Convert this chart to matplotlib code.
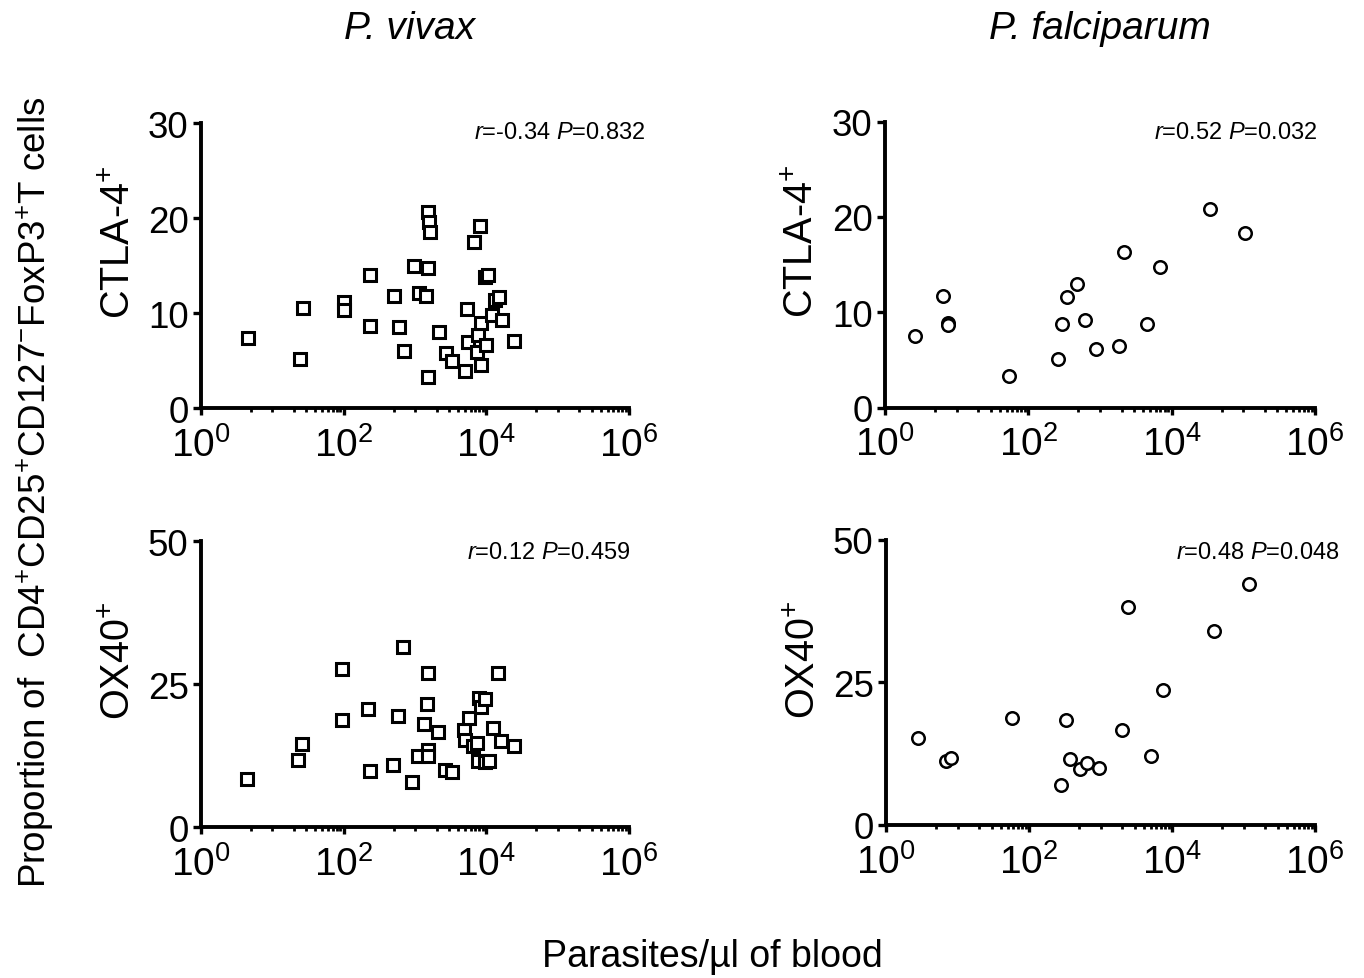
import matplotlib
matplotlib.use("Agg")
import matplotlib.pyplot as plt
import numpy as np
from matplotlib.ticker import FixedLocator, NullFormatter

plt.rcParams["font.family"] = ["Liberation Sans", "DejaVu Sans"]
plt.rcParams["mathtext.fontset"] = "custom"
plt.rcParams["mathtext.rm"] = "Liberation Sans"
plt.rcParams["mathtext.it"] = "Liberation Sans:italic"
plt.rcParams["mathtext.bf"] = "Liberation Sans:bold"

# parasites/ul of blood vs. proportion (%) of Treg cells
vivax_ctla_x = [4.5, 27, 24, 100, 100, 232, 235, 512, 601, 706, 957, 1150, 1430, 1540,
                1510, 1570, 1630, 1520, 2200, 2740, 3320, 4950, 5280, 5520, 6780, 8150,
                7310, 7640, 8510, 8320, 10000, 9460, 10570, 12160, 13090, 15100, 16790, 24550]
vivax_ctla_y = [7.4, 10.5, 5.2, 11.2, 10.3, 14.0, 8.6, 11.8, 8.5, 6.0, 14.9, 12.1, 11.8, 14.7,
                20.6, 19.6, 18.5, 3.3, 8.0, 5.8, 4.9, 3.85, 10.4, 7.0, 17.5, 19.2,
                5.9, 7.7, 8.9, 4.5, 6.6, 13.8, 14.0, 9.8, 11.4, 11.7, 9.3, 7.1]

vivax_ox40_x = [4.4, 22.8, 26.2, 96, 96, 222, 230, 484, 582, 684, 908, 1090, 1350, 1460,
                1540, 1540, 1540, 2080, 2640, 3290, 4850, 5060, 5640, 6490, 7460, 7800,
                8320, 9680, 7640, 9460, 10900, 12400, 14620, 16260, 24270]
vivax_ox40_y = [8.4, 11.7, 14.5, 27.6, 18.7, 20.7, 9.8, 10.8, 19.5, 31.4, 7.8, 12.5, 18.0, 21.5,
                27.0, 13.5, 12.5, 16.7, 10.0, 9.7, 17.0, 15.3, 19.0, 14.2, 14.7, 22.6,
                21.0, 22.4, 11.6, 11.4, 11.6, 17.4, 26.9, 15.1, 14.2]

falc_ctla_x = [2.6, 6.4, 7.5, 7.5, 54, 262, 297, 349, 486, 610, 885, 1820, 2180, 4510,
               6920, 34100, 107400]
falc_ctla_y = [7.5, 11.7, 8.9, 8.7, 3.3, 5.1, 8.8, 11.6, 13.0, 9.2, 6.1, 6.5, 16.3, 8.8,
               14.8, 20.8, 18.3]

falc_ox40_x = [2.8, 6.9, 8.1, 57.8, 277, 333, 374, 516, 655, 962, 2020, 2400, 5040, 7480,
               38600, 119400]
falc_ox40_y = [15.3, 11.1, 11.7, 18.8, 7.0, 18.4, 11.5, 9.8, 10.8, 9.9, 16.7, 38.2, 12.1, 23.6,
               34.0, 42.3]

stats = ["$r$=-0.34 $P$=0.832", "$r$=0.52 $P$=0.032",
         "$r$=0.12 $P$=0.459", "$r$=0.48 $P$=0.048"]
row_labels = ["CTLA-4$^{+}$", "OX40$^{+}$"]
col_titles = ["P. vivax", "P. falciparum"]


def style_axis(ax, ymax, ystep):
    ax.set_xscale("log")
    ax.set_xlim(1, 1e6)
    ax.set_ylim(0, ymax)
    ax.set_yticks(np.arange(0, ymax + 1, ystep))
    ax.xaxis.set_major_locator(FixedLocator([1, 1e2, 1e4, 1e6]))
    minors = []
    for d in [1, 1e2, 1e4]:
        minors += [d * m for m in [5, 10, 20, 30, 40, 50, 60, 70, 80, 90]]
    ax.xaxis.set_minor_locator(FixedLocator(minors))
    ax.xaxis.set_minor_formatter(NullFormatter())
    ax.set_xticklabels(["$10^{0}$", "$10^{2}$", "$10^{4}$", "$10^{6}$"])
    for s in ["top", "right"]:
        ax.spines[s].set_visible(False)
    for s in ["left", "bottom"]:
        ax.spines[s].set_linewidth(2.8)
    ax.tick_params(axis="y", which="major", length=6, width=2.4, labelsize=26.5, pad=3)
    ax.tick_params(axis="x", which="major", length=5, width=2.4, labelsize=28, pad=8)
    ax.tick_params(axis="x", which="minor", length=3, width=2.0)


fig = plt.figure(figsize=(13.64, 9.79), dpi=100)

ax_tl = fig.add_axes([0.1474, 0.5822, 0.3138, 0.2911])
ax_tr = fig.add_axes([0.6488, 0.5827, 0.3152, 0.2920])
ax_bl = fig.add_axes([0.1474, 0.1542, 0.3138, 0.2921])
ax_br = fig.add_axes([0.6496, 0.1566, 0.3145, 0.2909])

sq = dict(marker="s", linestyle="none", markersize=8, markerfacecolor="white",
          markeredgecolor="black", markeredgewidth=2.2, clip_on=False)
ci = dict(marker="o", linestyle="none", markersize=9, markerfacecolor="white",
          markeredgecolor="black", markeredgewidth=1.8, clip_on=False)

ax_tl.plot(vivax_ctla_x, vivax_ctla_y, **sq)
ax_bl.plot(vivax_ox40_x, vivax_ox40_y, **sq)
ax_tr.plot(falc_ctla_x, falc_ctla_y, **ci)
ax_br.plot(falc_ox40_x, falc_ox40_y, **ci)

style_axis(ax_tl, 30, 10)
style_axis(ax_tr, 30, 10)
style_axis(ax_bl, 50, 25)
style_axis(ax_br, 50, 25)

for ax, lab in [(ax_tl, row_labels[0]), (ax_tr, row_labels[0]),
                (ax_bl, row_labels[1]), (ax_br, row_labels[1])]:
    ax.set_ylabel(lab, fontsize=28.5)
    ax.yaxis.set_label_coords(-0.148, 0.584)

fig.text(0.4729, 0.8641, stats[0], ha="right", va="center", fontsize=17)
fig.text(0.9663, 0.8641, stats[1], ha="right", va="center", fontsize=17)
fig.text(0.4619, 0.4351, stats[2], ha="right", va="center", fontsize=17)
fig.text(0.9824, 0.4351, stats[3], ha="right", va="center", fontsize=17)

fig.text(0.3006, 0.970, col_titles[0], ha="center", va="center", fontsize=28, style="italic")
fig.text(0.8065, 0.970, col_titles[1], ha="center", va="center", fontsize=28, style="italic")

fig.text(0.522, 0.0225, "Parasites/\u00b5l of blood", ha="center", va="center", fontsize=27)
fig.text(0.0257, 0.4974,
         "Proportion of  CD4$^{+}$CD25$^{+}$CD127$^{-}$FoxP3$^{+}$T cells",
         ha="center", va="center", rotation=90, fontsize=26.5)

fig.savefig("out.png", dpi=100)
